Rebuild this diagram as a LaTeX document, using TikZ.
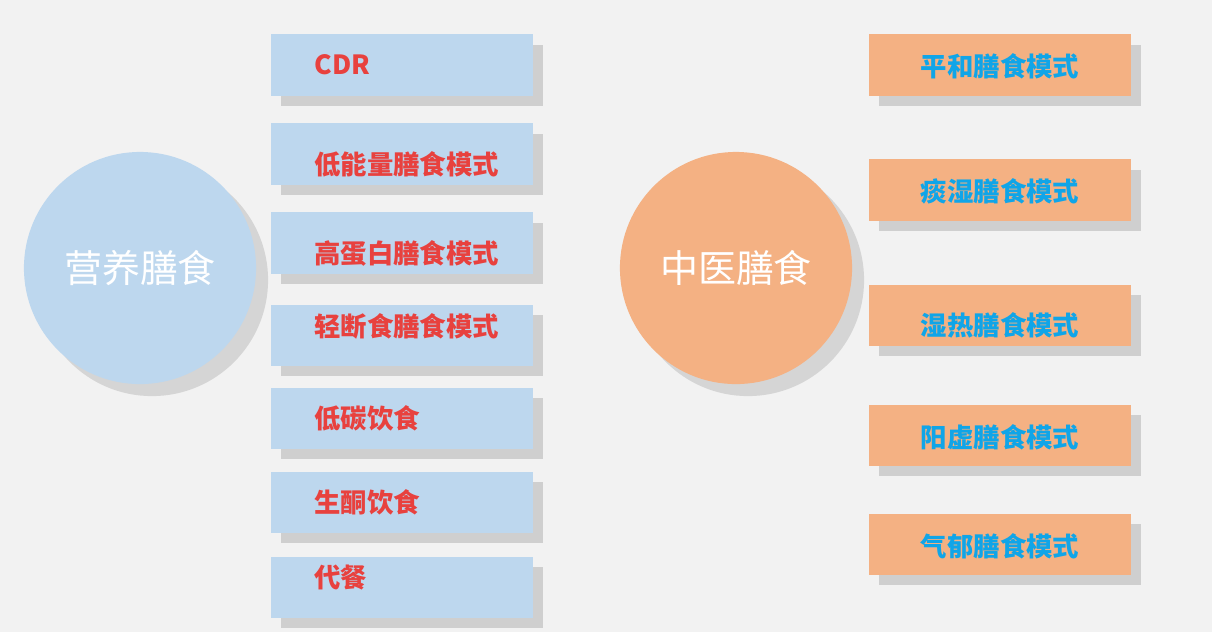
\documentclass[tikz,border=0pt]{standalone}
\usepackage{fontspec}
\newfontfamily\cjk{Noto Sans CJK SC}
\usetikzlibrary{shadows}
\definecolor{bgc}{HTML}{F2F2F2}
\definecolor{nblue}{HTML}{BDD7EE}
\definecolor{norange}{HTML}{F4B183}
\definecolor{tred}{HTML}{E8413E}
\definecolor{tblue}{HTML}{10A5E8}

\begin{document}
\begin{tikzpicture}[x=0.01cm,y=-0.01cm]
  \tikzstyle{hub}=[circle, minimum size=2.32cm, inner sep=0pt, text=white, font={\cjk\fontsize{10.8}{12}\selectfont}, drop shadow={shadow xshift=1.2mm, shadow yshift=-1.2mm, opacity=.25}]
  \tikzstyle{bbox}=[minimum width=2.61cm, minimum height=0.61cm, inner sep=0pt, drop shadow={shadow xshift=1mm, shadow yshift=-1mm, opacity=.3}]
  \tikzstyle{ltxt}=[anchor=west, text=tred, font={\cjk\bfseries\fontsize{7.5}{8}\selectfont}]
  \tikzstyle{rtxt}=[text=tblue, font={\cjk\bfseries\fontsize{7.5}{8}\selectfont}]
  \fill[bgc] (0,0) rectangle (1212,632);
  \useasboundingbox (0,0) rectangle (1212,632);
  % hubs
  \node[hub, fill=nblue] (yy) at (140,268) {营养膳食};
  \node[hub, fill=norange] (zy) at (736,268) {中医膳食};
  % left boxes: box centre / text y
  \foreach \i/\by/\ty/\t in {1/65/65/CDR, 2/154/164/低能量膳食模式, 3/243/253/高蛋白膳食模式,
      4/335/326/轻断食膳食模式, 5/418/418/低碳饮食, 6/502/502/生酮饮食, 7/587/578/代餐} {
    \node[bbox, fill=nblue] (l\i) at (402,\by) {};
    \node[ltxt] (lt\i) at (302,\ty) {\t};
  }
  % right boxes
  \foreach \i/\by/\ty/\t in {1/65/66/平和膳食模式, 2/190/191/痰湿膳食模式, 3/315/325/湿热膳食模式,
      4/435/437/阳虚膳食模式, 5/544/546/气郁膳食模式} {
    \node[bbox, fill=norange] (r\i) at (1000,\by) {};
    \node[rtxt] (rt\i) at (1000,\ty) {\t};
  }
\end{tikzpicture}
\end{document}
